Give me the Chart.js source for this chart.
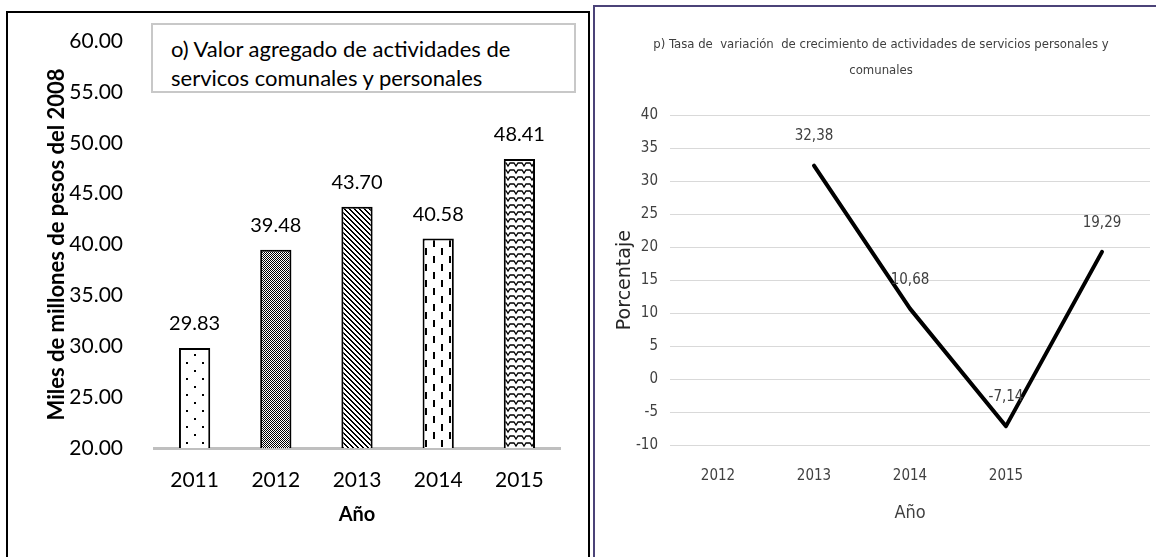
<!DOCTYPE html>
<html lang="es">
<head>
<meta charset="utf-8">
<script src="https://cdn.jsdelivr.net/npm/chart.js@4.4.1/dist/chart.umd.min.js"></script>
<style>
  html, body { margin: 0; padding: 0; background: #fff; }
  body { width: 1156px; height: 557px; position: relative; overflow: hidden; }
  .panel { position: absolute; box-sizing: border-box; }
  #panelIzq { left: 6px; top: 11px; width: 584px; height: 600px; border: 2px solid #000; }
  #panelDer { left: 593px; top: 5px; width: 600px; height: 600px; border: 2px solid #4b4378; }
  #graficoIzq { position: absolute; left: 0; top: 0; }
  #graficoDer { position: absolute; left: 595px; top: 0; }
  #tituloIzq {
    position: absolute; left: 151px; top: 23px; width: 425px; height: 70px;
    box-sizing: border-box; border: 2px solid #c8c8c8; background: #fff;
    font-family: Lato, sans-serif; font-size: 22px; line-height: 29px;
    padding: 9px 0 0 18px; color: #000; white-space: nowrap;
  }
</style>
</head>
<body>
<div class="panel" id="panelIzq"></div>
<div class="panel" id="panelDer"></div>
<canvas id="graficoIzq" width="590" height="557"></canvas>
<canvas id="graficoDer" width="572" height="557"></canvas>
<div id="tituloIzq">o) Valor agregado de actividades de<br>servicos comunales y personales</div>

<script>
// datos panel o)
const anios = ['2011', '2012', '2013', '2014', '2015'];
const valorAgregado = [29.83, 39.48, 43.70, 40.58, 48.41];

// datos panel p)
const aniosTasa = ['2012', '2013', '2014', '2015', ''];
const tasaVariacion = [null, 32.38, 10.68, -7.14, 19.29];

const tituloTasa = [
    'p) Tasa de  variación  de crecimiento de actividades de servicios personales y',
    'comunales'
];

const NARROW = "'Liberation Sans Narrow', 'DejaVu Sans Condensed', sans-serif";

function crearPatron(ctx, ancho, alto, dibujar) {
    const c = document.createElement('canvas');
    c.width = ancho;
    c.height = alto;
    const g = c.getContext('2d');
    g.fillStyle = '#fff';
    g.fillRect(0, 0, ancho, alto);
    g.fillStyle = '#000';
    g.strokeStyle = '#000';
    dibujar(g);
    return ctx.createPattern(c, 'repeat');
}

const ctxIzq = document.getElementById('graficoIzq').getContext('2d');

const patrones = [
    // puntos
    crearPatron(ctxIzq, 16, 16, g => {
        g.fillRect(2, 2, 2, 2);
        g.fillRect(10, 10, 2, 2);
    }),
    // malla
    crearPatron(ctxIzq, 2, 2, g => {
        g.fillRect(0, 0, 1, 1);
        g.fillRect(1, 1, 1, 1);
    }),
    // diagonales
    crearPatron(ctxIzq, 5, 5, g => {
        for (let i = 0; i < 5; i++) {
            g.fillRect(i, i, 1, 1);
            g.fillRect((i + 1) % 5, i, 1, 1);
        }
    }),
    // guiones verticales
    crearPatron(ctxIzq, 16, 16, g => {
        g.fillRect(1, 0, 2, 7);
        g.fillRect(9, 8, 2, 7);
    }),
    // ondas
    crearPatron(ctxIzq, 8, 7, g => {
        g.lineWidth = 1.3;
        g.beginPath();
        g.moveTo(0, 2);
        g.lineTo(2, 2);
        g.lineTo(4, 5);
        g.lineTo(6, 2);
        g.lineTo(8, 2);
        g.stroke();
    })
];

const etiquetasBarras = {
    id: 'etiquetasBarras',
    afterDatasetsDraw(chart) {
        const ctx = chart.ctx;
        ctx.save();
        ctx.font = '20px Lato';
        ctx.fillStyle = '#000';
        ctx.textAlign = 'center';
        ctx.textBaseline = 'middle';
        chart.getDatasetMeta(0).data.forEach((bar, i) => {
            ctx.fillText(valorAgregado[i].toFixed(2), bar.x, bar.y - 24);
        });
        ctx.restore();
    }
};

new Chart(ctxIzq, {
    type: 'bar',
    data: {
        labels: anios,
        datasets: [{
            data: valorAgregado,
            backgroundColor: patrones,
            borderColor: '#000',
            borderWidth: 2,
            barPercentage: 0.385,
            categoryPercentage: 1
        }]
    },
    options: {
        responsive: false,
        animation: false,
        layout: { padding: { left: 8, right: 30, top: 41, bottom: 0 } },
        plugins: {
            legend: { display: false },
            tooltip: { enabled: false }
        },
        scales: {
            x: {
                grid: { display: false },
                border: { display: true, color: '#bfbfbf', width: 3 },
                ticks: { font: { family: 'Lato', size: 21 }, color: '#000', padding: 12 },
                title: {
                    display: true, text: 'Año', color: '#000',
                    font: { family: 'Lato', size: 20, weight: 'bold' },
                    padding: { top: 0, bottom: 30 }
                },
                afterFit: s => { s.height = 109; }
            },
            y: {
                min: 20,
                max: 60,
                grid: { display: false },
                border: { display: false },
                ticks: {
                    stepSize: 5,
                    padding: 23,
                    color: '#000',
                    font: { family: 'Lato', size: 21 },
                    callback: v => v.toFixed(2)
                },
                title: {
                    display: true, text: 'Miles de millones de pesos del 2008', color: '#000',
                    font: { family: 'Lato', size: 22, weight: 'bold' },
                    padding: { top: 36, bottom: 0 }
                },
                afterFit: s => { s.width = 146; }
            }
        }
    },
    plugins: [etiquetasBarras]
});

const etiquetasLinea = {
    id: 'etiquetasLinea',
    afterDatasetsDraw(chart) {
        const ctx = chart.ctx;
        ctx.save();
        ctx.font = '15px ' + NARROW;
        ctx.fillStyle = '#404040';
        ctx.textAlign = 'center';
        ctx.textBaseline = 'middle';
        chart.getDatasetMeta(0).data.forEach((pt, i) => {
            const v = tasaVariacion[i];
            if (v === null) return;
            ctx.fillText(v.toFixed(2).replace('.', ','), pt.x, pt.y - 29);
        });
        ctx.restore();
    }
};

new Chart(document.getElementById('graficoDer'), {
    type: 'line',
    data: {
        labels: aniosTasa,
        datasets: [{
            data: tasaVariacion,
            borderColor: '#000',
            borderWidth: 4,
            borderJoinStyle: 'round',
            borderCapStyle: 'round',
            pointRadius: 0,
            tension: 0
        }]
    },
    options: {
        responsive: false,
        animation: false,
        layout: { padding: { left: 17, right: 17, top: 0, bottom: 0 } },
        plugins: {
            legend: { display: false },
            tooltip: { enabled: false },
            title: {
                display: true,
                text: tituloTasa,
                color: '#404040',
                font: { family: NARROW, size: 13, weight: 'normal', lineHeight: 2.05 },
                padding: { top: 31, bottom: 31 }
            }
        },
        scales: {
            x: {
                offset: true,
                grid: { display: false, offset: true },
                border: { display: false },
                ticks: { font: { family: NARROW, size: 15 }, color: '#404040', padding: 14 },
                title: {
                    display: true, text: 'Año', color: '#404040',
                    font: { family: NARROW, size: 18 },
                    padding: { top: 0, bottom: 33 }
                },
                afterFit: s => { s.height = 112; }
            },
            y: {
                min: -10,
                max: 40,
                grid: { color: '#d9d9d9', lineWidth: 1, drawTicks: false },
                border: { display: false },
                ticks: { stepSize: 5, padding: 12, color: '#404040', font: { family: NARROW, size: 15 } },
                title: {
                    display: true, text: 'Porcentaje', color: '#262626',
                    font: { family: 'DejaVu Sans', size: 19 },
                    padding: { top: 2, bottom: 0 }
                },
                afterFit: s => { s.width = 58; }
            }
        }
    },
    plugins: [etiquetasLinea]
});
</script>
</body>
</html>
